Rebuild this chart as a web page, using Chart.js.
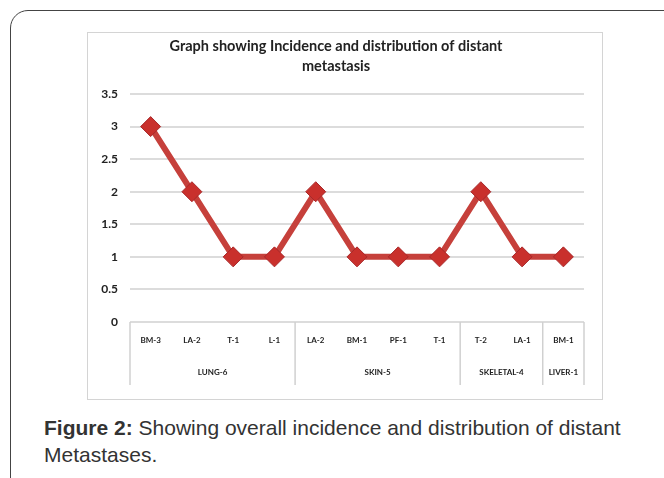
<!DOCTYPE html>
<html><head><meta charset="utf-8">
<script src="https://cdn.jsdelivr.net/npm/chart.js@4.4.0/dist/chart.umd.min.js"></script>
<style>
html,body{margin:0;padding:0;background:#fff;width:664px;height:478px;overflow:hidden;}
#frame{position:absolute;left:10px;top:10px;width:720px;height:520px;border:1px solid #444;border-radius:18px;}
#box{position:absolute;left:87px;top:32px;width:514px;height:366px;border:1px solid #d4d4d4;}
#caption{position:absolute;left:44px;top:414px;width:620px;white-space:nowrap;font-family:"Liberation Sans",Arial,sans-serif;font-size:21px;line-height:27px;color:#333;}
canvas{display:block;}
</style></head><body>
<div id="frame"></div>
<div id="box"><canvas id="c" width="514" height="366"></canvas></div>
<div id="caption"><b>Figure 2:</b> Showing overall incidence and distribution of distant<br>Metastases.</div>
<script>
const categories = ['BM-3','LA-2','T-1','L-1','LA-2','BM-1','PF-1','T-1','T-2','LA-1','BM-1'];
const counts = [3,2,1,1,2,1,1,1,2,1,1];
const groupNames = ['LUNG-6','SKIN-5','SKELETAL-4','LIVER-1'];
const groupSizes = [4,4,2,1];
const titleLines = ['Graph showing Incidence and distribution of distant','metastasis'];
const yMin = 0, yMax = 3.5, yStep = 0.5;

const groupPlugin = {
  id: 'groups',
  afterDraw(chart) {
    const xs = chart.scales.x, ys = chart.scales.y;
    const ctx = chart.ctx;
    const y0 = ys.getPixelForValue(0);
    const bounds = [xs.left];
    let idx = 0;
    groupSizes.forEach(n => {
      idx += n;
      bounds.push(idx < categories.length ? (xs.getPixelForValue(idx - 1) + xs.getPixelForValue(idx)) / 2 : xs.right);
    });
    ctx.save();
    ctx.strokeStyle = '#d0d0d0';
    ctx.lineWidth = 1.5;
    bounds.forEach(b => {
      ctx.beginPath();
      ctx.moveTo(b, y0);
      ctx.lineTo(b, y0 + 63);
      ctx.stroke();
    });
    ctx.fillStyle = '#222';
    ctx.font = 'bold 8px Lato, "Open Sans", sans-serif';
    ctx.textAlign = 'center';
    ctx.textBaseline = 'middle';
    groupNames.forEach((g, i) => {
      ctx.fillText(g, (bounds[i] + bounds[i + 1]) / 2, y0 + 50);
    });
    ctx.restore();
  }
};

new Chart(document.getElementById('c'), {
  type: 'line',
  data: {
    labels: categories,
    datasets: [{
      data: counts,
      borderColor: '#c6403b',
      borderWidth: 6,
      pointStyle: 'rectRot',
      pointRadius: 10,
      pointHoverRadius: 10,
      pointBackgroundColor: '#c9302c',
      pointBorderColor: '#a8282a',
      pointBorderWidth: 1,
      tension: 0
    }]
  },
  options: {
    responsive: false,
    animation: false,
    devicePixelRatio: 1,
    layout: { padding: { left: 0, right: 18, top: 0, bottom: 0 } },
    plugins: {
      legend: { display: false },
      tooltip: { enabled: false },
      title: {
        display: true,
        text: titleLines,
        color: '#222',
        font: { family: 'Lato, "Open Sans", sans-serif', size: 14.5, weight: 'bold', lineHeight: 1.38 },
        padding: { top: 3, bottom: 18 }
      }
    },
    scales: {
      x: {
        offset: true,
        grid: { display: false },
        border: { display: false },
        ticks: {
          color: '#222',
          font: { family: 'Lato, "Open Sans", sans-serif', size: 8, weight: 'bold' },
          padding: 6,
          maxRotation: 0,
          autoSkip: false
        },
        afterFit(s) { s.height = 77; }
      },
      y: {
        min: yMin, max: yMax,
        grid: { color: '#dcdcdc', lineWidth: 2, drawTicks: false },
        border: { display: false },
        ticks: {
          stepSize: yStep,
          color: '#222',
          padding: 12,
          font: { family: 'Lato, "Open Sans", sans-serif', size: 12, weight: 'bold' },
          callback: v => String(v)
        },
        afterFit(s) { s.width = 42; }
      }
    }
  },
  plugins: [groupPlugin]
});
</script>
</body></html>
